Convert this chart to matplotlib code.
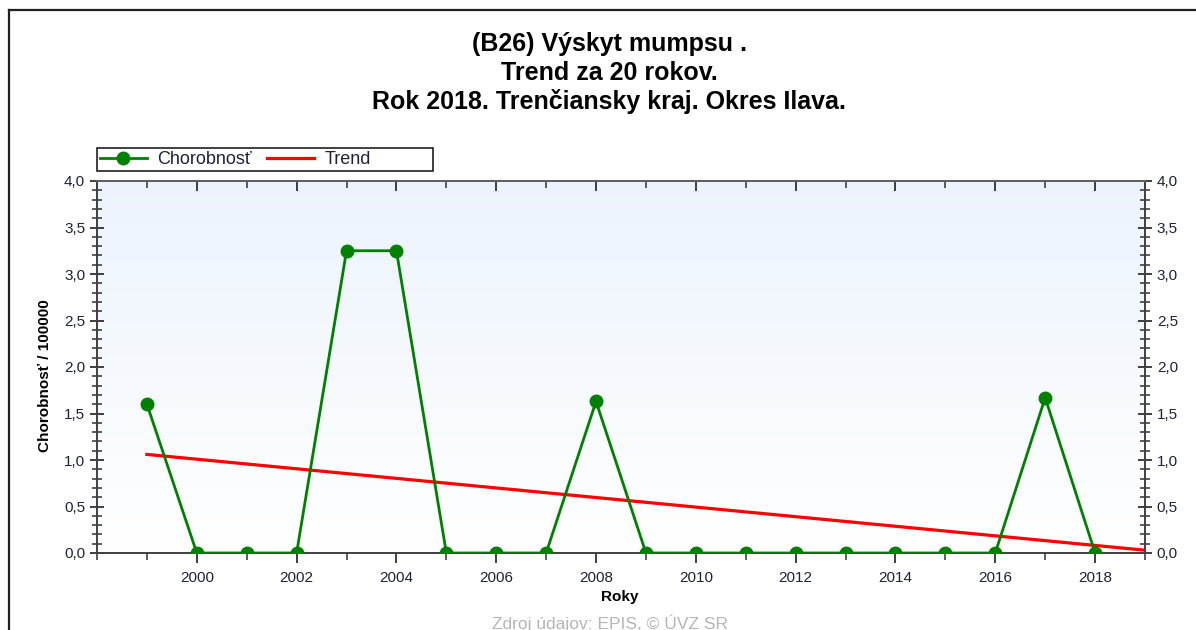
import matplotlib.pyplot as plt
import numpy as np
from matplotlib.lines import Line2D
from matplotlib.patches import Rectangle
from matplotlib.ticker import FuncFormatter, MultipleLocator

plt.rcParams["font.family"] = ["Liberation Sans", "DejaVu Sans"]

years = list(range(1999, 2019))
chorobnost = [1.60, 0, 0, 0, 3.25, 3.25, 0, 0, 0, 1.63,
              0, 0, 0, 0, 0, 0, 0, 0, 1.67, 0]
trend_years = [1999, 2019]
trend_values = [1.06, 0.03]
x_labels = list(range(2000, 2019, 2))

W, H = 1196, 630
fig = plt.figure(figsize=(W / 100, H / 100), dpi=100)

# outer frame: only top and left edges are inside the picture
fig.add_artist(Line2D([9 / W, 1.0], [1 - 10 / H, 1 - 10 / H], transform=fig.transFigure,
                      color="#202020", lw=1.6))
fig.add_artist(Line2D([9 / W, 9 / W], [0, 1 - 10 / H], transform=fig.transFigure,
                      color="#202020", lw=1.6))

ax = fig.add_axes([97 / W, (H - 553) / H, (1145 - 97) / W, (553 - 181) / H])

# light blue gradient background
grad = np.linspace(0, 1, 256).reshape(-1, 1)
top = np.array([0.925, 0.955, 0.99])
bot = np.array([1.0, 1.0, 1.0])
img = top + (bot - top) * grad[:, :, None] * np.ones((1, 1, 3))
ax.imshow(img, extent=[0, 1, 0, 1], transform=ax.transAxes, aspect="auto", zorder=0)

ax.plot(trend_years, trend_values, color="#ff0000", lw=2.3, zorder=2)
ax.plot(years, chorobnost, color="#008000", lw=2, marker="o", ms=9, zorder=3)

ax.set_xlim(1998, 2019)
ax.set_ylim(0, 4)

ax.xaxis.set_minor_locator(MultipleLocator(1))
ax.set_xticks(x_labels)
ax.set_xticklabels([str(y) for y in x_labels])
ax.yaxis.set_major_locator(MultipleLocator(0.5))
ax.yaxis.set_minor_locator(MultipleLocator(0.1))
ax.yaxis.set_major_formatter(FuncFormatter(lambda v, p: f"{v:.1f}".replace(".", ",")))

lab_col = "#20203a"
ax.tick_params(axis="x", which="major", direction="out", length=7, width=1.3,
               labelsize=11, colors="#303030", labelcolor=lab_col, pad=6)
ax.tick_params(axis="x", which="minor", direction="out", length=5, width=1.1,
               colors="#303030")
ax.tick_params(axis="y", which="major", direction="inout", length=10, width=1.3,
               labelsize=11, colors="#303030", labelcolor=lab_col,
               left=True, right=True, labelleft=True, labelright=True)
ax.tick_params(axis="y", which="minor", direction="inout", length=7, width=1.1,
               colors="#303030", left=True, right=True)

# inward ticks along the top edge
top_ax = ax.secondary_xaxis("top")
top_ax.set_xticks(x_labels)
top_ax.xaxis.set_minor_locator(MultipleLocator(1))
top_ax.tick_params(which="major", direction="in", length=7, width=1.3, colors="#303030",
                   labeltop=False)
top_ax.tick_params(which="minor", direction="in", length=5, width=1.1, colors="#303030")
top_ax.spines["top"].set_color("#606060")
top_ax.spines["top"].set_linewidth(1.4)

for s in ax.spines.values():
    s.set_color("#404040")
    s.set_linewidth(1.4)
ax.spines["top"].set_color("#606060")

# titles
title_lines = ["(B26) Výskyt mumpsu .", "Trend za 20 rokov.",
               "Rok 2018. Trenčiansky kraj. Okres Ilava."]
for i, t in enumerate(title_lines):
    fig.text(609 / W, 1 - (44 + 29 * i) / H, t, ha="center", va="center",
             fontsize=18, fontweight="bold", color="#000000")

# axis labels
fig.text(45 / W, 1 - 376 / H, "Chorobnosť / 100000", rotation=90, ha="center",
         va="center", fontsize=11, fontweight="bold")
fig.text(620 / W, 1 - 597 / H, "Roky", ha="center", va="center",
         fontsize=11, fontweight="bold")
fig.text(610 / W, 0.002, "Zdroj údajov: EPIS, © ÚVZ SR", ha="center", va="baseline",
         fontsize=12.5, color="#b5b5b5")

# legend
fig.add_artist(Rectangle((97 / W, 1 - 171 / H), (433 - 97) / W, 23 / H,
                         transform=fig.transFigure, fill=False, edgecolor="#202020", lw=1.2))
handles = [Line2D([], [], color="#008000", lw=2, marker="o", ms=9),
           Line2D([], [], color="#ff0000", lw=2.3)]
fig.legend(handles, ["Chorobnosť", "Trend"], loc="center left",
           bbox_to_anchor=(97 / W, 1 - 159.5 / H), ncol=2, frameon=False,
           fontsize=13, handlelength=2.6, handletextpad=0.6, columnspacing=0.8,
           borderpad=0.0, borderaxespad=0.15, labelcolor="#20203a")

fig.savefig("out.png", dpi=100)
